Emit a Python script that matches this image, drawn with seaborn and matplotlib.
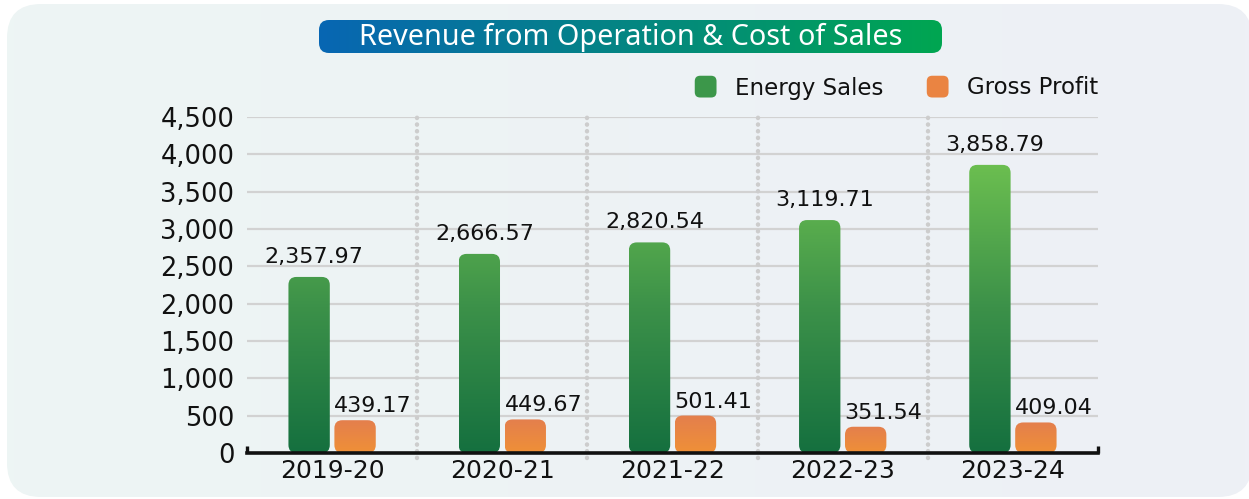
import numpy as np
import pandas as pd
import matplotlib
matplotlib.use("Agg")
import matplotlib.pyplot as plt
import seaborn as sns
from matplotlib.patches import FancyBboxPatch, Patch
from matplotlib.colors import LinearSegmentedColormap
from matplotlib.legend_handler import HandlerPatch

# ---------------- data ----------------
years = ["2019-20", "2020-21", "2021-22", "2022-23", "2023-24"]
energy_sales = [2357.97, 2666.57, 2820.54, 3119.71, 3858.79]
gross_profit = [439.17, 449.67, 501.41, 351.54, 409.04]
series_names = ["Energy Sales", "Gross Profit"]
y_ticks = [0, 500, 1000, 1500, 2000, 2500, 3000, 3500, 4000, 4500]
y_tick_labels = ["0", "500", "1,000", "1,500", "2,000", "2,500", "3,000", "3,500", "4,000", "4,500"]
title = "Revenue from Operation & Cost of Sales"

df = pd.DataFrame({
    "Year": years * 2,
    "Value": energy_sales + gross_profit,
    "Series": [series_names[0]] * len(years) + [series_names[1]] * len(years),
})

sns.set_theme(style="white")
FONT = ["DejaVu Sans"]
plt.rcParams["font.family"] = FONT

W, H = 1249, 499
fig = plt.figure(figsize=(W / 100, H / 100), dpi=100)
fig.patch.set_facecolor("white")

# ---------------- background panel ----------------
bg = fig.add_axes([0, 0, 1, 1], zorder=-10)
bg.set_facecolor("none")
bg.axis("off")
panel = FancyBboxPatch((7, 4), 1245, 493, boxstyle="round,pad=0,rounding_size=34",
                       facecolor="none", edgecolor="none")
bg.add_patch(panel)
pcmap = LinearSegmentedColormap.from_list("p", ["#EDF5F4", "#EEF0F6"])
im = bg.imshow(np.linspace(0, 1, 256)[None, :], extent=[7, 1252, 497, 4], cmap=pcmap,
               aspect="auto", interpolation="bilinear")
im.set_clip_path(panel)
bg.set_xlim(0, W)
bg.set_ylim(H, 0)

# ---------------- title pill ----------------
tx0, ty0, tw, th = 319, 20, 623, 33
tax = fig.add_axes([tx0 / W, 1 - (ty0 + th) / H, tw / W, th / H])
tax.set_facecolor("none")
tax.axis("off")
pill = FancyBboxPatch((0, 0), tw, th, boxstyle="round,pad=0,rounding_size=10",
                      facecolor="none", edgecolor="none")
tax.add_patch(pill)
tcmap = LinearSegmentedColormap.from_list("t", ["#0866B3", "#00A651"])
im2 = tax.imshow(np.linspace(0, 1, 256)[None, :], extent=[0, tw, 0, th], cmap=tcmap,
                 aspect="auto", interpolation="bilinear")
im2.set_clip_path(pill)
tax.set_xlim(0, tw)
tax.set_ylim(0, th)
tax.text(tw / 2, th / 2 - 1, title, color="white", fontsize=20.7, ha="center", va="center",
         family=["Noto Sans", "DejaVu Sans"])

# ---------------- main axes ----------------
ax = fig.add_axes([247 / W, 1 - 453 / H, (1098 - 247) / W, (453 - 117) / H])
ax.set_facecolor("none")
green_solid = "#3E9A4A"
orange_solid = "#EA8442"
sns.barplot(data=df, x="Year", y="Value", hue="Series", palette=[green_solid, orange_solid],
            width=0.54, gap=0.1, legend=False, ax=ax, zorder=3)

ax.set_xlim(-0.5, len(years) - 0.5)
ax.set_ylim(0, 4500)
fig.canvas.draw()

# data units per pixel
p0 = ax.transData.transform((0, 0))
p1 = ax.transData.transform((1, 1000))
dx_per_px = 1 / (p1[0] - p0[0])
dy_per_px = 1000 / (p1[1] - p0[1])
aspect = dy_per_px / dx_per_px
rad = 8 * dx_per_px

gcmap = LinearSegmentedColormap.from_list("g", ["#15703F", "#3C9149", "#6CBF50"])
ocmap = LinearSegmentedColormap.from_list("o", ["#EF9037", "#E47F4D"])
GTOP = 3900.0

for ci, cont in enumerate(ax.containers):
    for bar in cont:
        x0 = bar.get_x()
        w = bar.get_width()
        h = bar.get_height()
        bar.set_visible(False)
        rp = FancyBboxPatch((x0, 0), w, h, boxstyle=f"round,pad=0,rounding_size={rad}",
                            mutation_aspect=aspect, facecolor="none", edgecolor="none",
                            zorder=3)
        ax.add_patch(rp)
        if ci == 0:
            vals = np.linspace(0, h / GTOP, 128)[:, None]
            imb = ax.imshow(vals, extent=[x0, x0 + w, 0, h], origin="lower", cmap=gcmap,
                            vmin=0, vmax=1, aspect="auto", zorder=3, interpolation="bilinear")
        else:
            vals = np.linspace(0, 1, 128)[:, None]
            imb = ax.imshow(vals, extent=[x0, x0 + w, 0, h], origin="lower", cmap=ocmap,
                            vmin=0, vmax=1, aspect="auto", zorder=3, interpolation="bilinear")
        imb.set_clip_path(rp)
        # value label
        txt = f"{h:,.2f}"
        off_x = 5 if ci == 0 else 18
        off_y = 10 if ci == 0 else 4
        ax.annotate(txt, (x0 + w / 2, h), xytext=(off_x * 0.72, off_y * 0.72),
                    textcoords="offset points", ha="center", va="bottom",
                    fontsize=16, color="#111111", zorder=5, annotation_clip=False)

ax.set_xlim(-0.5, len(years) - 0.5)
ax.set_ylim(0, 4500)

# grid & spines
ax.set_yticks(y_ticks)
ax.set_yticklabels(y_tick_labels)
ax.yaxis.grid(True, color="#D2D2D2", linewidth=1.6, zorder=0)
ax.xaxis.grid(False)
ax.set_axisbelow(True)
for s in ["top", "right", "left"]:
    ax.spines[s].set_visible(False)
ax.spines["bottom"].set_color("#111111")
ax.spines["bottom"].set_linewidth(2.6)
ax.spines["bottom"].set_zorder(6)
ax.tick_params(axis="y", length=0, pad=9, labelsize=18.5, labelcolor="#111111")
ax.tick_params(axis="x", length=0, pad=4, labelsize=18, labelcolor="#111111")
ax.set_xlabel("")
ax.set_ylabel("")

# small end ticks on the axis line
tick_h = 7 / (453 - 117)
for xe in (-0.5, len(years) - 0.5):
    ax.plot([xe, xe], [0, tick_h], transform=ax.get_xaxis_transform(), color="#111111",
            linewidth=2.4, clip_on=False, zorder=6, solid_capstyle="butt")

# dotted separators between years
for xs in np.arange(0.5, len(years) - 0.5, 1.0):
    ax.plot([xs, xs], [-5 / 336, 1.006], transform=ax.get_xaxis_transform(),
            color="#CDCDCD", linewidth=3.2, linestyle=(0, (0.05, 1.45)),
            dash_capstyle="round", clip_on=False, zorder=1)

# ---------------- legend ----------------
class RoundHandler(HandlerPatch):
    def create_artists(self, legend, orig_handle, xdescent, ydescent, width, height,
                       fontsize, trans):
        s = max(width, height)
        p = FancyBboxPatch((-xdescent + (width - s) / 2, -ydescent + (height - s) / 2), s, s,
                           boxstyle=f"round,pad=0,rounding_size={s*0.25}",
                           facecolor=orig_handle.get_facecolor(), edgecolor="none",
                           transform=trans)
        return [p]

handles = [Patch(facecolor="#3C974A", label=series_names[0]),
           Patch(facecolor="#EA8442", label=series_names[1])]
leg = fig.legend(handles=handles, loc="center right",
                 bbox_to_anchor=(1098 / W, 1 - 88 / H), bbox_transform=fig.transFigure,
                 ncol=2, frameon=False, fontsize=16.5, borderpad=0, borderaxespad=0,
                 handlelength=0.95, handleheight=0.95, handletextpad=0.8,
                 columnspacing=1.9,
                 handler_map={Patch: RoundHandler()})
for t in leg.get_texts():
    t.set_color("#111111")

fig.savefig("out.png", dpi=100, facecolor="white")
